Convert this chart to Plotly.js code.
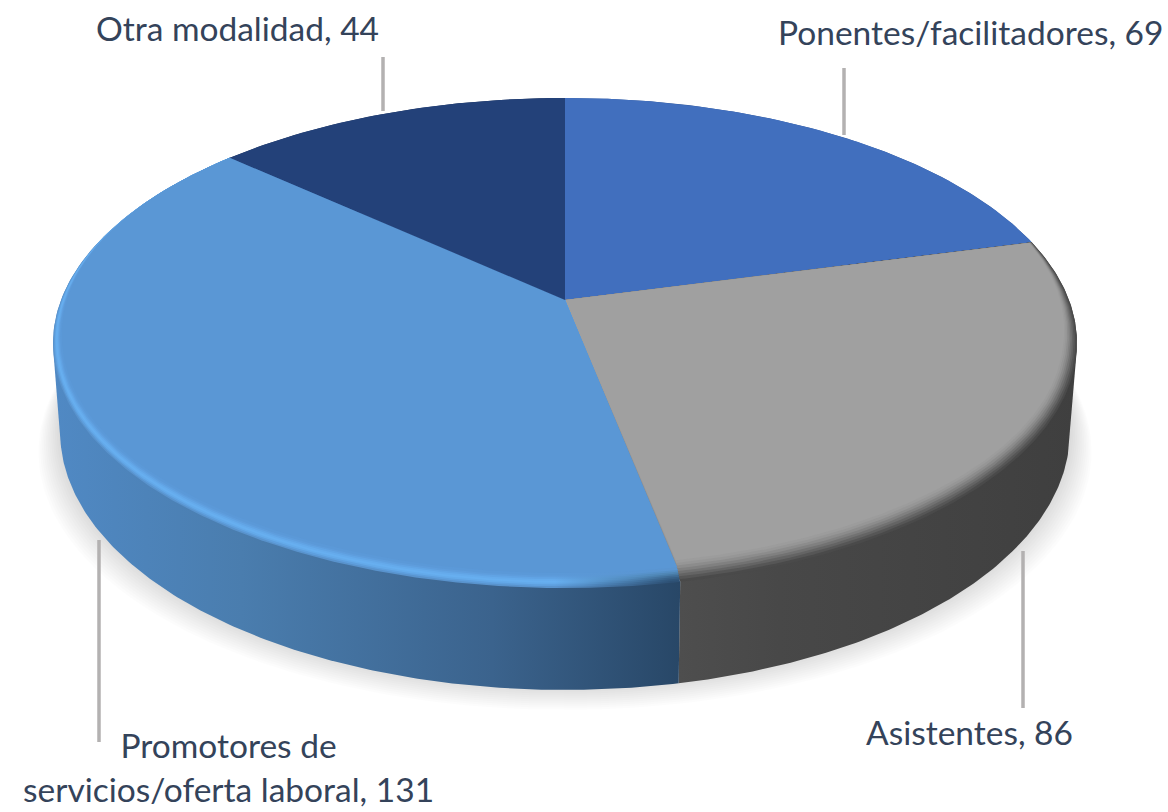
<!DOCTYPE html>
<html>
<head>
<meta charset="utf-8">
<script src="https://cdn.plot.ly/plotly-3.0.1.min.js"></script>
<style>html,body{margin:0;padding:0;background:#fff}#c{width:1168px;height:812px}</style>
</head>
<body>
<div id="c"></div>
<script>
// Data
var categories = ['Ponentes/facilitadores', 'Asistentes', 'Promotores de<br>servicios/oferta laboral', 'Otra modalidad'];
var values = [69, 86, 131, 44];

// Styling per slice
var topColors = ['#416fbe', '#a0a0a0', '#5a97d5', '#234179'];
var sideScales = [
  [[0, '#2f5597'], [1, '#2f5597']],
  [[0, '#4e4e4e'], [0.25, '#484848'], [1, '#3f3f3f']],
  [[0, '#5089c4'], [0.3, '#4a7dae'], [0.7, '#3b638d'], [1, '#284767']],
  [[0, '#1a3059'], [1, '#1a3059']]
];
var rimInsets = [
  null,
  [1, 0.992, 0.984, 0.976, 0.968, 0.96, 0.952, 0.944],
  [1, 0.995, 0.99, 0.985, 0.98, 0.975, 0.97, 0.965],
  null
];
var rimColors = [
  null,
  ['#4a4a4a', '#565656', '#646464', '#727272', '#808080', '#8c8c8c', '#969696', '#9c9c9c'],
  ['#5993cd', '#5e9fde', '#64aaea', '#67aff0', '#65abec', '#61a4e5', '#5e9ddd', '#5b99d8'],
  null
];
var rimDark = [null, null, ['#2d5074', '#30567b', '#365f86', '#3e6b94', '#477aa5', '#4f86b5', '#558fc5', '#5a95d1'], null];

// Projection of the tilted disc (pixel space)
var cx = 565, P = 0.1755, sideInset = 0.4;
var topDisc = {cy: 300, A: 237.5, B: 504};
var baseDisc = {cy: 386.7, A: 250, B: 497};

function project(disc, theta, su, sv) {
  var u = Math.sin(theta) * su, v = Math.cos(theta) * sv, w = 1 + P * v;
  return [cx + disc.B * u / w, disc.cy - disc.A * v / w];
}
function rimFactor(theta) {
  var t = Math.min(1, Math.max(0, (0.5 - Math.cos(theta)) / 0.8));
  return t * t * (3 - 2 * t);
}
function arc(disc, a, b, inset) {
  var n = Math.max(4, Math.ceil((b - a) / 0.01)), pts = [];
  for (var i = 0; i <= n; i++) {
    var th = a + (b - a) * i / n;
    var d = (1 - inset) * rimFactor(th);
    pts.push(project(disc, th, 1 - d * sideInset, 1 - d));
  }
  return pts;
}
function hull(points) {
  var p = points.slice().sort(function (m, n) { return m[0] - n[0] || m[1] - n[1]; });
  function cross(o, m, n) { return (m[0] - o[0]) * (n[1] - o[1]) - (m[1] - o[1]) * (n[0] - o[0]); }
  var lo = [], up = [], i;
  for (i = 0; i < p.length; i++) {
    while (lo.length >= 2 && cross(lo[lo.length - 2], lo[lo.length - 1], p[i]) <= 0) lo.pop();
    lo.push(p[i]);
  }
  for (i = p.length - 1; i >= 0; i--) {
    while (up.length >= 2 && cross(up[up.length - 2], up[up.length - 1], p[i]) <= 0) up.pop();
    up.push(p[i]);
  }
  lo.pop(); up.pop();
  var h = lo.concat(up);
  h.push(h[0]);
  return h;
}
function poly(pts, extra) {
  var t = {
    type: 'scatter', mode: 'lines', fill: 'toself',
    x: pts.map(function (p) { return p[0]; }),
    y: pts.map(function (p) { return p[1]; }),
    line: {width: 0}, hoverinfo: 'skip', showlegend: false
  };
  for (var k in extra) t[k] = extra[k];
  return t;
}

var total = values.reduce(function (a, b) { return a + b; }, 0);
var angles = [0];
values.forEach(function (v, i) { angles.push(angles[i] + v / total * 2 * Math.PI); });

var traces = [];

// Soft shadow under the disc
for (var k = 12; k >= 1; k--) {
  var sh = [];
  for (var j = 0; j <= 240; j++) {
    var th = j / 240 * 2 * Math.PI;
    var q = project(baseDisc, th, 1, 1);
    sh.push([cx + (q[0] - cx) * (1 + k * 0.0036), q[1] + k * 2 - 4]);
  }
  traces.push(poly(sh, {fillcolor: 'rgba(0,0,0,0.012)'}));
}

// Sides
[0, 3, 1, 2].forEach(function (i) {
  var a = angles[i], b = angles[i + 1];
  var pts = hull(arc(topDisc, a, b, 1).concat(arc(baseDisc, a, b, 1)));
  traces.push(poly(pts, {fillgradient: {type: 'horizontal', colorscale: sideScales[i]}}));
});

// Top surfaces, with a soft rim on the front slices
values.forEach(function (v, i) {
  var a = angles[i], b = angles[i + 1], c = [[cx, topDisc.cy]];
  if (!rimColors[i]) {
    traces.push(poly(c.concat(arc(topDisc, a, b, 1)).concat(c), {
      fillcolor: topColors[i], name: categories[i], text: String(v)
    }));
    return;
  }
  var last = 1;
  rimInsets[i].forEach(function (s, r) {
    var extra = {};
    if (rimDark[i]) {
      extra.fillgradient = {type: 'horizontal', colorscale: [[0, rimColors[i][r]], [0.8, rimColors[i][r]], [0.985, rimDark[i][r]], [1, rimDark[i][r]]]};
    } else {
      extra.fillcolor = rimColors[i][r];
    }
    traces.push(poly(c.concat(arc(topDisc, a, b, s)).concat(c), extra));
    last = s;
  });
  traces.push(poly(c.concat(arc(topDisc, a, b, last - 0.008)).concat(c), {fillcolor: topColors[i], name: categories[i], text: String(v)}));
});

// Labels and leader lines
var labelX = [970, 969, 228, 237], labelY = [32, 732, 767, 28];
var leaders = [[844, 68, 135], [1023, 551, 708], [99, 540, 742], [383, 57, 111]];

var annotations = categories.map(function (c, i) {
  return {
    xref: 'x', yref: 'y', x: labelX[i], y: labelY[i], showarrow: false,
    xanchor: 'center', yanchor: 'middle', align: 'center',
    text: c + ', ' + values[i],
    font: {family: 'Lato, sans-serif', size: 33.5, color: '#34435a'}
  };
});
var shapes = leaders.map(function (l) {
  return {type: 'line', xref: 'x', yref: 'y', x0: l[0], x1: l[0], y0: l[1], y1: l[2],
    line: {color: '#b3b1b1', width: 3.5}};
});

Plotly.newPlot('c', traces, {
  width: 1168, height: 812,
  margin: {l: 0, r: 0, t: 0, b: 0},
  paper_bgcolor: '#ffffff', plot_bgcolor: '#ffffff',
  showlegend: false,
  xaxis: {range: [0, 1168], visible: false, fixedrange: true},
  yaxis: {range: [812, 0], visible: false, fixedrange: true},
  annotations: annotations, shapes: shapes
}, {displayModeBar: false, staticPlot: true});
</script>
</body>
</html>
